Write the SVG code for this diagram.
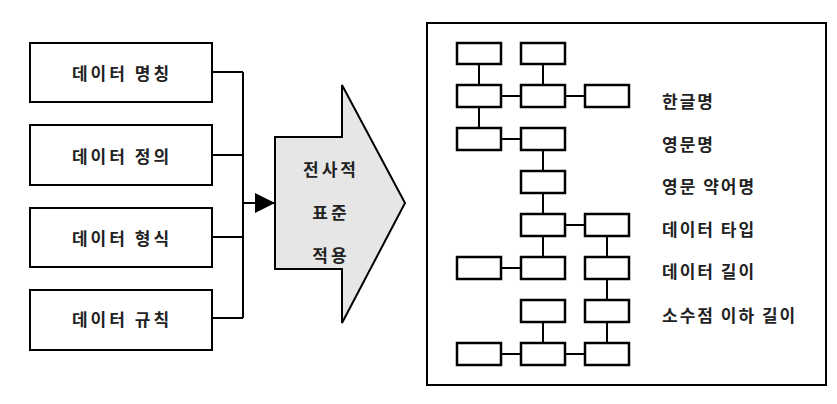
<svg xmlns="http://www.w3.org/2000/svg" width="837" height="404" viewBox="0 0 837 404">
<style>
.b{fill:#fff;stroke:#000;stroke-width:2}
.s{fill:#fff;stroke:#000;stroke-width:2.5}
.l{stroke:#000;stroke-width:2;fill:none}
text{font-family:"Noto Sans CJK KR",sans-serif;font-size:17px;font-weight:bold;fill:#222}
.c{text-anchor:middle;dominant-baseline:central;letter-spacing:3px}
.r{letter-spacing:2px}
</style>
<defs><marker id="ah" markerWidth="20" markerHeight="20" refX="20" refY="10" orient="auto" markerUnits="userSpaceOnUse"><path d="M0,0 L20,10 L0,20Z" fill="#000"/></marker></defs>
<rect width="837" height="404" fill="#fff"/>
<g id="n1"><rect class="b" x="30" y="43" width="182" height="59"/><text class="c" x="122" y="72">데이터 명칭</text></g>
<g id="n2"><rect class="b" x="30" y="125" width="182" height="60"/><text class="c" x="122" y="155">데이터 정의</text></g>
<g id="n3"><rect class="b" x="30" y="208" width="182" height="59"/><text class="c" x="122" y="237">데이터 형식</text></g>
<g id="n4"><rect class="b" x="30" y="290" width="182" height="60"/><text class="c" x="122" y="318">데이터 규칙</text></g>
<g id="bigarrow"><path d="M275,137 H342 V85 L405,203 L342,323 V269 H275Z" fill="#e6e6e6" stroke="#000" stroke-width="2"/>
<text class="c" x="331" y="168">전사적</text><text class="c" x="331" y="211">표준</text><text class="c" x="331" y="254">적용</text></g>
<g id="connectors">
<path class="l" d="M212,72 H243 M212,155 H243 M212,237 H243 M212,318 H243 M243,72 V318"/>
<path class="l" d="M243,203 H275" marker-end="url(#ah)"/>
<path class="l" d="M479,64 V85 M543,64 V85 M501,96 H521 M565,96 H585 M479,107 V128 M501,139 H521 M543,150 V171 M543,193 V214 M565,225 H585 M543,236 V257 M607,236 V257 M501,268 H521 M607,279 V300 M543,322 V343 M607,322 V343 M501,354 H521 M565,354 H585"/>
</g>
<g id="panel"><rect x="427" y="23" width="399" height="362" fill="none" stroke="#000" stroke-width="2"/>
<rect class="s" x="457" y="43" width="44" height="21"/><rect class="s" x="521" y="43" width="44" height="21"/>
<rect class="s" x="457" y="85" width="44" height="22"/><rect class="s" x="521" y="85" width="44" height="22"/><rect class="s" x="585" y="85" width="44" height="22"/>
<rect class="s" x="457" y="128" width="44" height="22"/><rect class="s" x="521" y="128" width="44" height="22"/>
<rect class="s" x="521" y="171" width="44" height="22"/>
<rect class="s" x="521" y="214" width="44" height="22"/><rect class="s" x="585" y="214" width="44" height="22"/>
<rect class="s" x="457" y="257" width="44" height="22"/><rect class="s" x="521" y="257" width="44" height="22"/><rect class="s" x="585" y="257" width="44" height="22"/>
<rect class="s" x="521" y="300" width="44" height="22"/><rect class="s" x="585" y="300" width="44" height="22"/>
<rect class="s" x="457" y="343" width="44" height="22"/><rect class="s" x="521" y="343" width="44" height="22"/><rect class="s" x="585" y="343" width="44" height="22"/>
<text class="r" x="662" y="108">한글명</text><text class="r" x="662" y="151">영문명</text><text class="r" x="662" y="193">영문 약어명</text><text class="r" x="662" y="236">데이터 타입</text><text class="r" x="662" y="278">데이터 길이</text><text class="r" x="662" y="322">소수점 이하 길이</text>
</g>
</svg>
